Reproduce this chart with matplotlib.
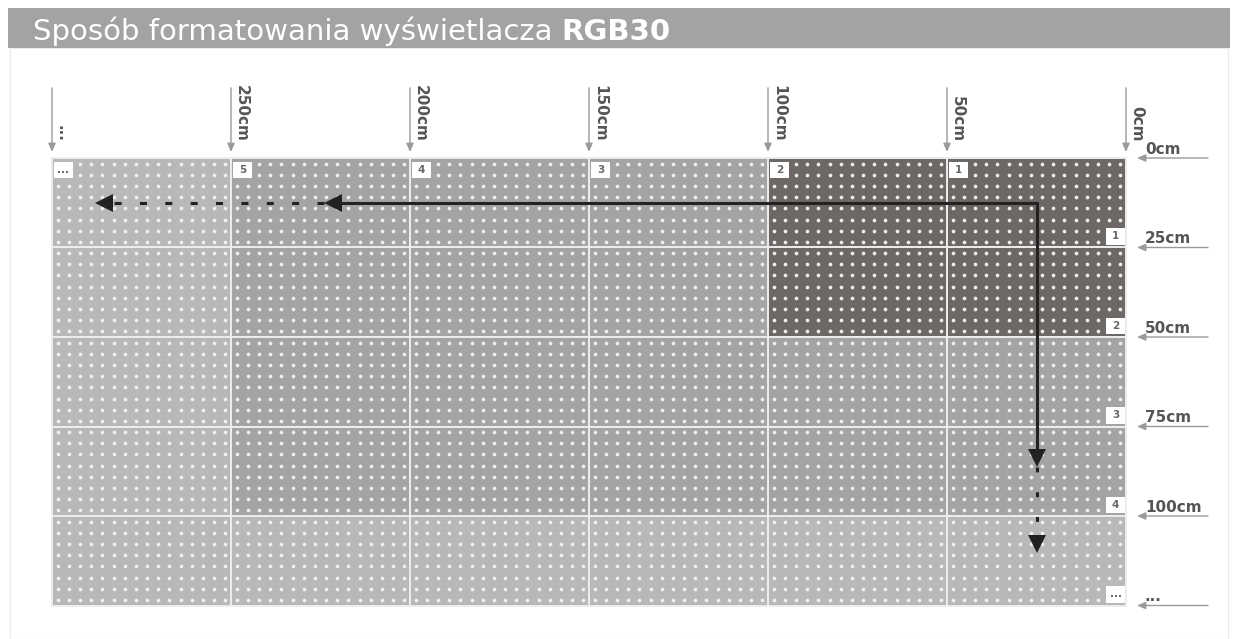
import matplotlib
matplotlib.use("Agg")
import matplotlib.pyplot as plt
from matplotlib.patches import Rectangle
import numpy as np

# module layout (cm): columns run right -> left, rows top -> bottom
COL_STARTS = [0, 50, 100, 150, 200, 250]
COL_WIDTH = 50
COL_NAMES = ["1", "2", "3", "4", "5", "..."]
ROW_STARTS = [0, 25, 50, 75, 100]
ROW_HEIGHT = 25
ROW_NAMES = ["1", "2", "3", "4", "..."]

TOP_TICKS = [0, 50, 100, 150, 200, 250, 300]
TOP_LABELS = ["0cm", "50cm", "100cm", "150cm", "200cm", "250cm", "..."]
SIDE_TICKS = [0, 25, 50, 75, 100, 125]
SIDE_LABELS = ["0cm", "25cm", "50cm", "75cm", "100cm", "..."]

# 2 = first formatted block, 1 = regular module, 0 = continuation
CELL_STATE = [
    [2, 2, 1, 1, 1, 0],
    [2, 2, 1, 1, 1, 0],
    [1, 1, 1, 1, 1, 0],
    [1, 1, 1, 1, 1, 0],
    [0, 0, 0, 0, 0, 0],
]
LED_PITCH = 3.125  # cm

# scan path: start point, solid arrow ends, dashed continuation ends
START = (25, 12.5)
ROW_END, ROW_MORE = 224, 288
COL_END, COL_MORE = 86.3, 110.3

STATE_COLORS = {2: "#6d6865", 1: "#a4a4a4", 0: "#b8b8b8"}
LABEL_COLOR = "#555555"
ARROW_GRAY = "#9a9a9a"
INK = "#222222"

W, H = 1240, 639
PX = 3.58  # pixels per cm
GRID_X0, GRID_Y0 = 1126, 158  # pixel position of 0cm / 0cm

fig = plt.figure(figsize=(W / 100, H / 100), dpi=100)
fig.patch.set_facecolor("white")
ax = fig.add_axes([0, 0, 1, 1])
ax.set_xlim(GRID_X0 / PX, -(W - GRID_X0) / PX)
ax.set_ylim((H - GRID_Y0) / PX, -GRID_Y0 / PX)
ax.axis("off")

# page frame + title bar
fig.add_artist(Rectangle((10 / W, 0), (1228 - 10) / W, 1 - 48 / H, transform=fig.transFigure,
                         facecolor="none", edgecolor="#ececec", lw=0.8))
fig.add_artist(Rectangle((8 / W, 1 - 48 / H), (1230 - 8) / W, 40 / H, transform=fig.transFigure,
                         facecolor="#a3a3a3", edgecolor="none"))
t1 = fig.text(33 / W, 1 - 40 / H, "Sposób formatowania wyświetlacza ", color="white",
              fontsize=21, va="baseline", ha="left", family="DejaVu Sans")
fig.canvas.draw()
x_end = t1.get_window_extent(fig.canvas.get_renderer()).x1
fig.text(x_end / W, 1 - 40 / H, "RGB30", color="white", fontsize=21, fontweight="bold",
         va="baseline", ha="left", family="DejaVu Sans")

# modules
for r, y0 in enumerate(ROW_STARTS):
    for c, x0 in enumerate(COL_STARTS):
        ax.add_patch(Rectangle((x0, y0), COL_WIDTH, ROW_HEIGHT,
                               facecolor=STATE_COLORS[CELL_STATE[r][c]],
                               edgecolor="#ededed", lw=1.4, zorder=1))

# LED dots
gx = np.arange(LED_PITCH / 2, COL_STARTS[-1] + COL_WIDTH, LED_PITCH)
gy = np.arange(LED_PITCH / 2, ROW_STARTS[-1] + ROW_HEIGHT, LED_PITCH)
mx, my = np.meshgrid(gx, gy)
ax.scatter(mx.ravel(), my.ravel(), s=7, color="#f0f0f0", linewidths=0, zorder=2)

# number boxes
BOX_W, BOX_H = 5.2, 4.6
for x0, name in zip(COL_STARTS, COL_NAMES):
    left = x0 + COL_WIDTH - 0.6
    ax.add_patch(Rectangle((left - BOX_W, 1.1), BOX_W, BOX_H, facecolor="white",
                           edgecolor="none", zorder=3))
    ax.text(left - BOX_W / 2, 1.1 + BOX_H / 2, name, ha="center", va="center",
            fontsize=7.5, fontweight="bold", color="#666666", zorder=4)
for y0, name in zip(ROW_STARTS, ROW_NAMES):
    bottom = y0 + ROW_HEIGHT - 0.8
    ax.add_patch(Rectangle((0.3, bottom - BOX_H), BOX_W, BOX_H, facecolor="white",
                           edgecolor="none", zorder=3))
    ax.text(0.3 + BOX_W / 2, bottom - BOX_H / 2, name, ha="center", va="center",
            fontsize=7.5, fontweight="bold", color="#666666", zorder=4)

# top distance markers
arrow_kw = dict(arrowstyle="-|>,head_length=0.5,head_width=0.22", color=ARROW_GRAY,
                lw=1.0, shrinkA=0, shrinkB=0)
for x, lab in zip(TOP_TICKS, TOP_LABELS):
    ax.annotate("", xy=(x, -1.7), xytext=(x, -19.6), arrowprops=arrow_kw)
    ax.text(x - 0.8, -4.5, lab, rotation=-90, ha="left", va="bottom", fontsize=11,
            fontweight="bold", color=LABEL_COLOR)

# side distance markers
for y, lab in zip(SIDE_TICKS, SIDE_LABELS):
    ax.annotate("", xy=(-3.1, y), xytext=(-22.9, y), arrowprops=arrow_kw)
    ax.text(-5.3, y - 0.4, lab, ha="left", va="bottom", fontsize=11,
            fontweight="bold", color=LABEL_COLOR)

# scan direction
HEAD = 13  # marker size, pt
half = HEAD / 2 * 100 / 72 / PX  # half head length in cm
ax.plot([ROW_END - half, START[0], START[0]], [START[1], START[1], COL_END - half],
        color=INK, lw=2.2, solid_joinstyle="miter", solid_capstyle="butt", zorder=5)
ax.plot([ROW_END, ROW_MORE - half], [START[1], START[1]], color=INK, lw=2.2,
        dashes=[2.3, 6.0], zorder=5)
ax.plot([START[0], START[0]], [COL_END, COL_MORE - half], color=INK, lw=2.2,
        dashes=[1.6, 6.5], zorder=5)
ax.plot([ROW_END - half, ROW_MORE - half], [START[1], START[1]], ls="none", marker="<",
        ms=HEAD, color=INK, mew=0, zorder=6)
ax.plot([START[0], START[0]], [COL_END - half, COL_MORE - half], ls="none", marker="v",
        ms=HEAD, color=INK, mew=0, zorder=6)

fig.savefig("out.png", dpi=100, facecolor=fig.get_facecolor())
